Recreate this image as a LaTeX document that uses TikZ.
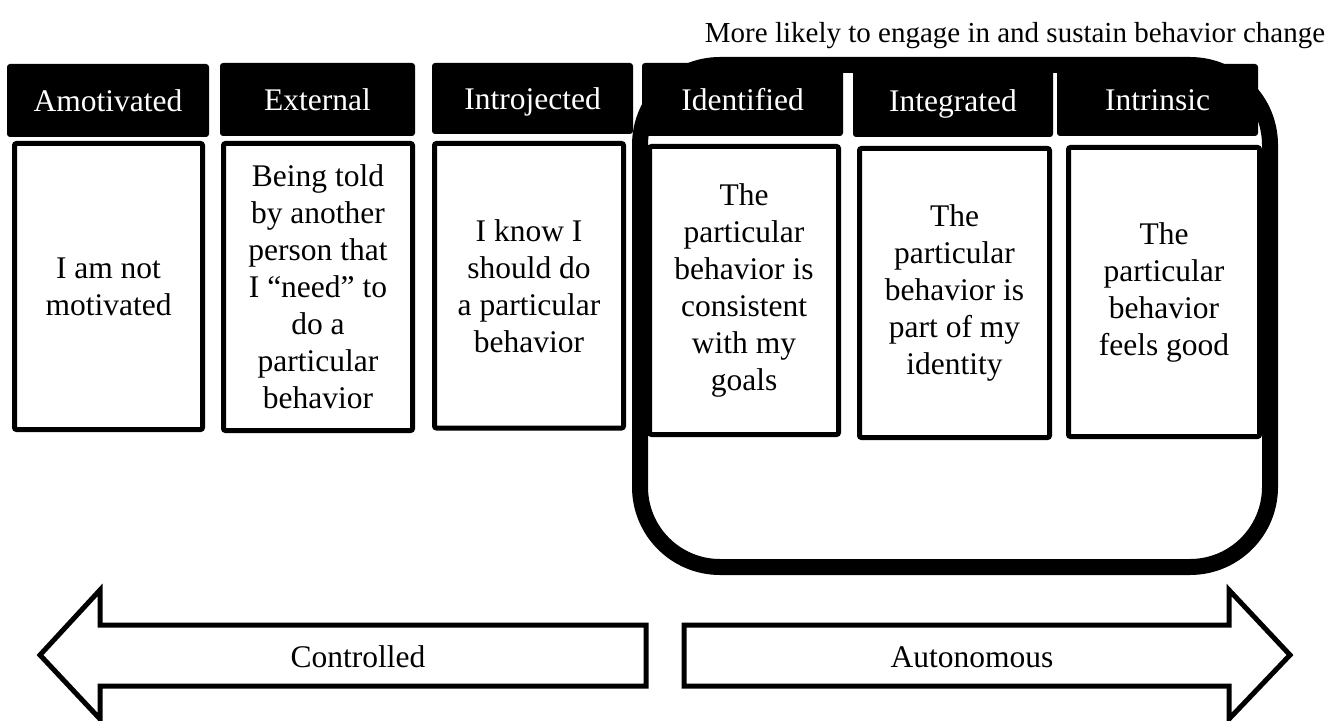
\documentclass[tikz,border=0pt]{standalone}
\usepackage{fontspec}
\setmainfont{Liberation Serif}
\usetikzlibrary{fit}
\begin{document}
\begin{tikzpicture}[x=0.5pt,y=-0.5pt,
  txt/.style={font=\fontsize{15.75}{18.5}\selectfont},
  one/.style={txt, inner sep=0pt, text height=12pt, text depth=1pt},
  hdr/.style={fill=black, rounded corners=1.5pt, inner sep=0pt},
  card/.style={txt, draw=black, fill=white, line width=2.5pt, rounded corners=1pt, inner sep=0pt, align=center},
  bigbox/.style={draw=black, line width=8pt, rounded corners=40pt, inner sep=0pt},
  bigarrow/.style={draw=black, fill=white, line width=2.5pt, line join=miter}
]
\useasboundingbox (0,0) rectangle (1332,721);

% top caption
\node[one, font=\fontsize{14.5}{17}\selectfont] (cap) at (1015,32) {More likely to engage in and sustain behavior change};

% headers
\node[hdr, fit={(7,64) (209,137)}] (hA) {};
\node[hdr, fit={(220,63) (415,136)}] (hE) {};
\node[hdr, fit={(432,63) (633,134)}] (hJ) {};
\node[hdr, fit={(642,63) (843,136)}] (hD) {};
\node[hdr, fit={(853,64) (1053,137)}] (hG) {};
\node[hdr, fit={(1057,64) (1258,136)}] (hI) {};
\node[one, text=white] (tA) at (hA.center) {Amotivated};
\node[one, text=white] (tE) at (hE.center) {External};
\node[one, text=white] (tJ) at (hJ.center) {Introjected};
\node[one, text=white] (tD) at (hD.center) {Identified};
\node[one, text=white] (tG) at (hG.center) {Integrated};
\node[one, text=white] (tI) at (hI.center) {Intrinsic};

% grouping box
\node[bigbox, fit={(640,65) (1270,567)}] (group) {};

% cards
\node[card, fit={(14.5,143.5) (202.5,429.5)}] (cA) {};
\node[card, fit={(223.5,143.5) (412.5,430.5)}] (cE) {};
\node[card, fit={(434.5,143.5) (623.5,428)}] (cJ) {};
\node[card, fit={(649.5,146.5) (838.5,434.5)}] (cD) {};
\node[card, fit={(859.5,148.5) (1049.5,437.5)}] (cG) {};
\node[card, fit={(1068.5,147.5) (1259.5,436.5)}] (cI) {};
\node[txt, align=center] (xA) at (cA.center) {I am not\\motivated};
\node[txt, align=center] (xE) at (cE.center) {Being told\\by another\\person that\\I “need” to\\do a\\particular\\behavior};
\node[txt, align=center] (xJ) at (cJ.center) {I know I\\should do\\a particular\\behavior};
\node[txt, align=center] (xD) at (cD.center) {The\\particular\\behavior is\\consistent\\with my\\goals};
\node[txt, align=center] (xG) at (cG.center) {The\\particular\\behavior is\\part of my\\identity};
\node[txt, align=center] (xI) at (cI.center) {The\\particular\\behavior\\feels good};

% arrows
\draw[bigarrow] (40,655) -- (100,590) -- (100,625) -- (646,625) -- (646,686) -- (100,686) -- (100,719) -- cycle;
\draw[bigarrow] (684,625) -- (1229,625) -- (1229,590) -- (1290,655) -- (1229,719) -- (1229,686) -- (684,686) -- cycle;
\node[one] (ctl) at (358,656) {Controlled};
\node[one] (aut) at (972,656) {Autonomous};
\end{tikzpicture}
\end{document}
